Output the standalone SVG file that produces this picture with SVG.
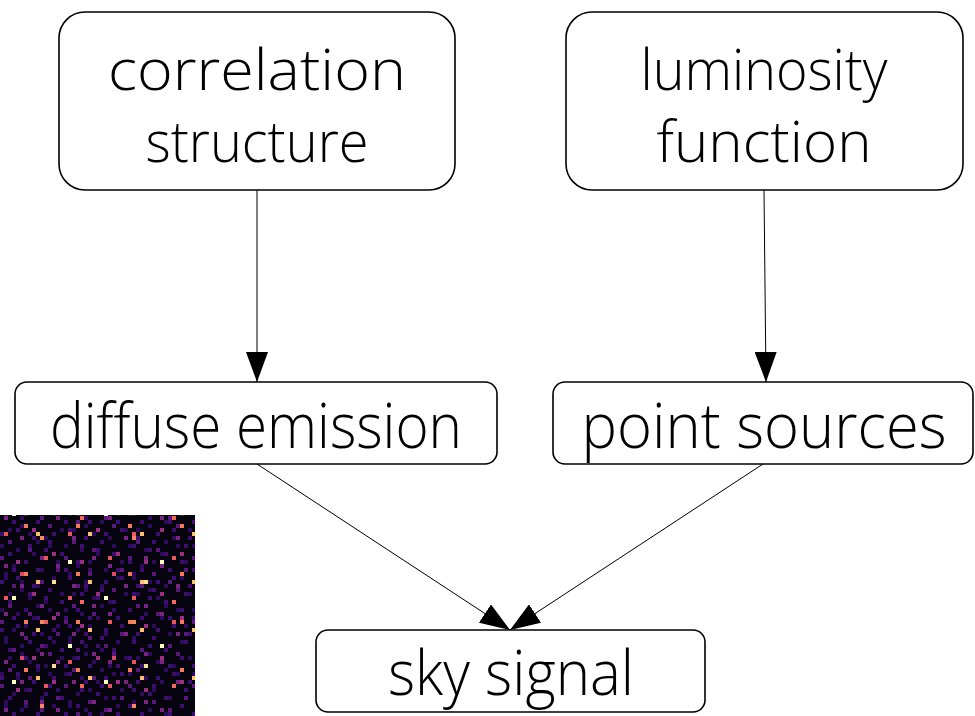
<svg xmlns="http://www.w3.org/2000/svg" width="975" height="716" viewBox="0 0 975 716">
<defs>
<style>
.box{fill:#fff;stroke:#000;stroke-width:1.6}
.lbl{font-family:"Open Sans","Lato","Liberation Sans",sans-serif;font-weight:300;font-size:62px;fill:#000;text-anchor:middle}
.two{font-size:57px}
.edge{stroke:#000;stroke-width:1;fill:none}
</style>
<marker id="ah" viewBox="0 0 30 22" refX="30" refY="11" markerWidth="30" markerHeight="22" markerUnits="userSpaceOnUse" orient="auto">
<path d="M0,0 L30,11 L0,22 Z" fill="#000"/>
</marker>
<pattern id="pA" width="64" height="64" patternUnits="userSpaceOnUse">
<g fill="#2c0b5a">
<rect x="4" y="0" width="4" height="4"/><rect x="20" y="4" width="4" height="4"/><rect x="36" y="8" width="4" height="4"/><rect x="52" y="0" width="4" height="4"/><rect x="8" y="16" width="4" height="4"/><rect x="28" y="20" width="4" height="4"/><rect x="44" y="24" width="4" height="4"/><rect x="60" y="16" width="4" height="4"/><rect x="0" y="32" width="4" height="4"/><rect x="16" y="36" width="4" height="4"/><rect x="32" y="40" width="4" height="4"/><rect x="48" y="32" width="4" height="4"/><rect x="12" y="52" width="4" height="4"/><rect x="24" y="48" width="4" height="4"/><rect x="40" y="56" width="4" height="4"/><rect x="56" y="48" width="4" height="4"/><rect x="4" y="60" width="4" height="4"/><rect x="36" y="28" width="4" height="4"/><rect x="20" y="12" width="4" height="4"/>
</g>
<g fill="#5a1878">
<rect x="12" y="8" width="4" height="4"/><rect x="48" y="12" width="4" height="4"/><rect x="28" y="36" width="4" height="4"/><rect x="0" y="44" width="4" height="4"/><rect x="56" y="56" width="4" height="4"/><rect x="40" y="4" width="4" height="4"/><rect x="8" y="28" width="4" height="4"/><rect x="24" y="60" width="4" height="4"/>
</g>
<g fill="#9c2e7f">
<rect x="32" y="16" width="4" height="4"/><rect x="16" y="48" width="4" height="4"/><rect x="52" y="40" width="4" height="4"/>
</g>
<g fill="#e8575e">
<rect x="44" y="44" width="4" height="4"/><rect x="4" y="20" width="4" height="4"/>
</g>
</pattern>
<pattern id="pB" width="52" height="48" patternUnits="userSpaceOnUse">
<g fill="#3d0f6e">
<rect x="0" y="4" width="4" height="4"/><rect x="16" y="0" width="4" height="4"/><rect x="32" y="8" width="4" height="4"/><rect x="44" y="20" width="4" height="4"/><rect x="8" y="24" width="4" height="4"/><rect x="24" y="32" width="4" height="4"/><rect x="36" y="40" width="4" height="4"/><rect x="48" y="12" width="4" height="4"/><rect x="12" y="40" width="4" height="4"/><rect x="28" y="16" width="4" height="4"/>
</g>
<g fill="#7a2482">
<rect x="20" y="8" width="4" height="4"/><rect x="40" y="28" width="4" height="4"/><rect x="4" y="36" width="4" height="4"/>
</g>
<rect x="24" y="44" width="4" height="4" fill="#f47a5a"/>
<rect x="36" y="4" width="4" height="4" fill="#fcbf73"/>
</pattern>
<pattern id="pC" width="92" height="84" patternUnits="userSpaceOnUse">
<rect x="12" y="8" width="4" height="4" fill="#fcfdbf"/>
<rect x="68" y="56" width="4" height="4" fill="#fcfdbf"/>
<rect x="40" y="32" width="4" height="4" fill="#fb8761"/>
<rect x="80" y="12" width="4" height="4" fill="#f4685c"/>
<rect x="20" y="68" width="4" height="4" fill="#de4968"/>
<rect x="52" y="76" width="4" height="4" fill="#fcdf8f"/>
</pattern>
</defs>
<rect width="975" height="716" fill="#fff"/>
<g id="noise">
<rect x="0" y="515" width="195" height="201" fill="#06040f"/>
<rect x="0" y="515" width="195" height="201" fill="url(#pA)"/>
<rect x="0" y="515" width="195" height="201" fill="url(#pB)"/>
<rect x="0" y="515" width="195" height="201" fill="url(#pC)"/>
</g>
<g id="connectors">
<line class="edge" x1="257" y1="190" x2="257" y2="382" marker-end="url(#ah)"/>
<line class="edge" x1="764" y1="190" x2="766" y2="382" marker-end="url(#ah)"/>
<line class="edge" x1="257" y1="464" x2="510" y2="630" marker-end="url(#ah)"/>
<line class="edge" x1="763" y1="464" x2="510" y2="630" marker-end="url(#ah)"/>
</g>
<g id="correlation">
<rect class="box" x="59" y="12" width="396" height="178" rx="26"/>
<text class="lbl two" x="257" y="90" textLength="298" lengthAdjust="spacingAndGlyphs">correlation</text>
<text class="lbl two" x="257" y="162" textLength="223" lengthAdjust="spacingAndGlyphs">structure</text>
</g>
<g id="luminosity">
<rect class="box" x="566" y="12" width="397" height="178" rx="26"/>
<text class="lbl two" x="764" y="90" textLength="247" lengthAdjust="spacingAndGlyphs">luminosity</text>
<text class="lbl two" x="764" y="162" textLength="215" lengthAdjust="spacingAndGlyphs">function</text>
</g>
<g id="diffuse">
<rect class="box" x="15" y="382" width="482" height="82" rx="12"/>
<text class="lbl" x="256" y="448" textLength="412" lengthAdjust="spacingAndGlyphs">diffuse emission</text>
</g>
<g id="point">
<rect class="box" x="553" y="382" width="420" height="82" rx="12"/>
<text class="lbl" x="764" y="448" textLength="365" lengthAdjust="spacingAndGlyphs">point sources</text>
</g>
<g id="sky">
<rect class="box" x="316" y="630" width="389" height="82" rx="12"/>
<text class="lbl" x="511" y="695" textLength="246" lengthAdjust="spacingAndGlyphs">sky signal</text>
</g>
</svg>
